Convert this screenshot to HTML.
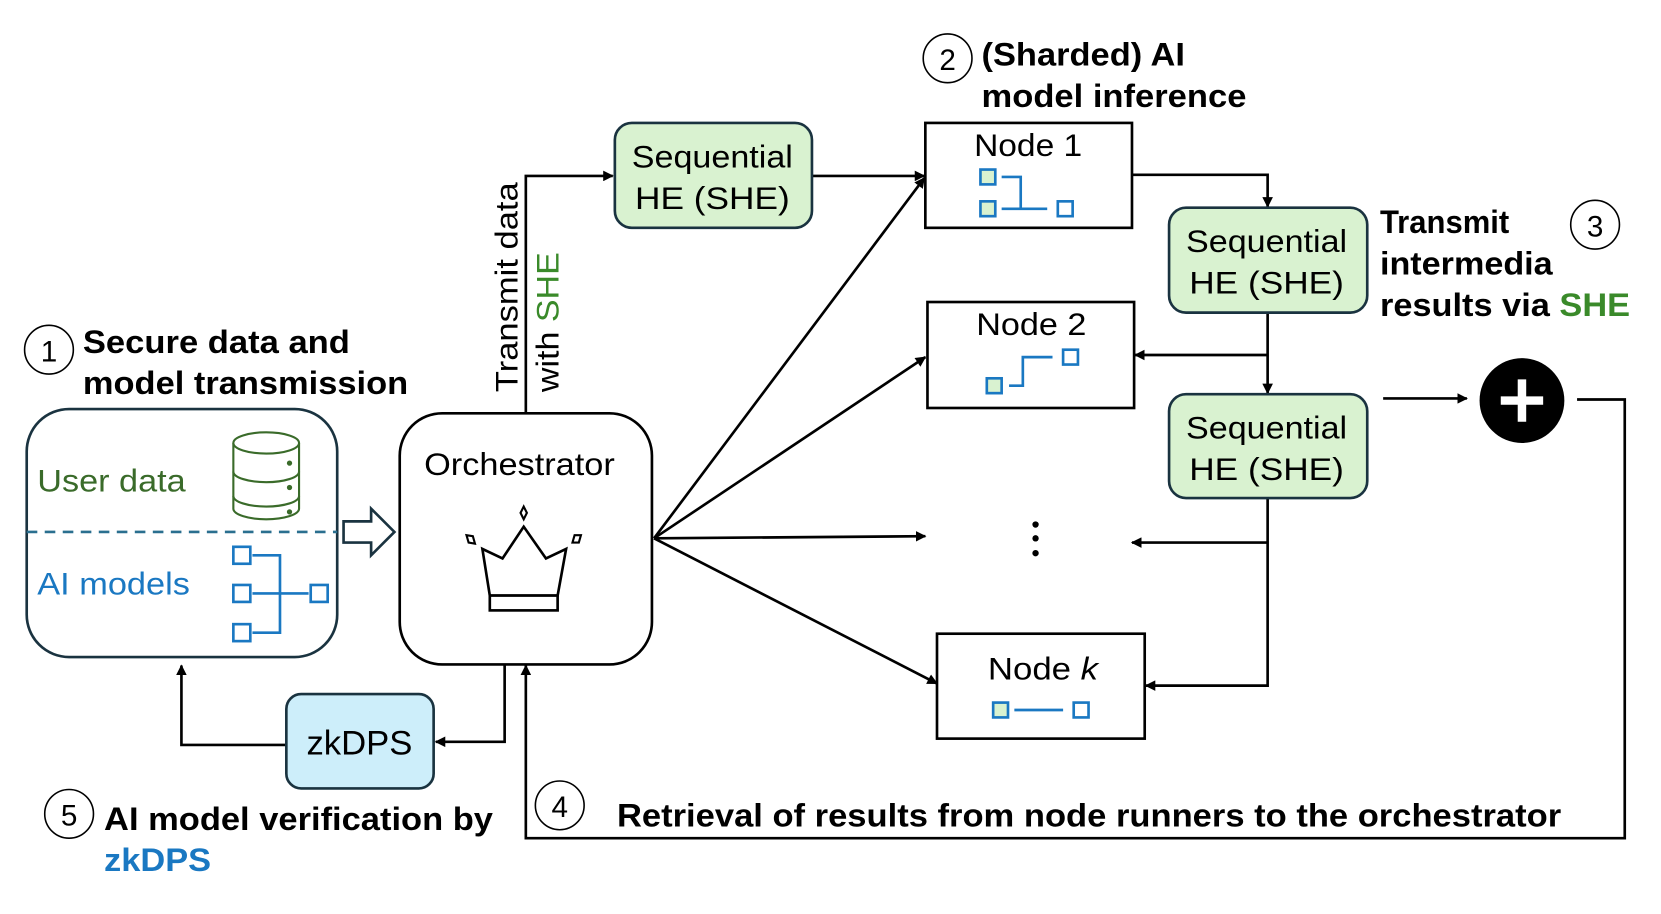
<!DOCTYPE html>
<html><head><meta charset="utf-8"><style>
html,body{margin:0;padding:0;background:#fff}
svg{display:block}
text{font-family:"Liberation Sans",sans-serif}
.b{font-weight:bold;font-size:31px}
.r{font-size:30px}
</style></head><body>
<svg width="1661" height="914" viewBox="0 0 1567 862.5" xmlns="http://www.w3.org/2000/svg">
<defs>
<marker id="a" markerWidth="10" markerHeight="10" refX="9" refY="5" orient="auto" markerUnits="userSpaceOnUse"><path d="M0,0 L10,5 L0,10 Z" fill="#000"/></marker>
</defs>
<g fill="none" stroke="#000" stroke-width="2.5">
<circle cx="46" cy="330" r="23" stroke-width="1.5"/>
<circle cx="894" cy="55" r="23" stroke-width="1.5"/>
<circle cx="1505" cy="212" r="23" stroke-width="1.5"/>
<circle cx="528" cy="760" r="23" stroke-width="1.5"/>
<circle cx="65" cy="768" r="23" stroke-width="1.5"/>
</g>
<g font-size="30" fill="#000">
<text x="46" y="341" text-anchor="middle" font-size="28">1</text>
<text x="894" y="66" text-anchor="middle" font-size="28">2</text>
<text x="1505" y="223" text-anchor="middle" font-size="28">3</text>
<text x="528" y="771" text-anchor="middle" font-size="28">4</text>
<text x="65" y="779" text-anchor="middle" font-size="28">5</text>
</g>
<rect x="25" y="386" width="293" height="234" rx="40" fill="#fff" stroke="#1a3340" stroke-width="2.5"/>
<line x1="25" y1="502" x2="318" y2="502" stroke="#2a6f8f" stroke-width="2.5" stroke-dasharray="10,7"/>
<text x="35" y="464" class="r" fill="#3a6b2a" textLength="140" lengthAdjust="spacingAndGlyphs">User data</text>
<text x="35" y="561" class="r" fill="#1a78c2" textLength="144" lengthAdjust="spacingAndGlyphs">AI models</text>
<g fill="#fff" stroke="#3a6b2a" stroke-width="2">
<path d="M220,418 v62 a31,10 0 0 0 62,0 v-62"/>
<ellipse cx="251" cy="418" rx="31" ry="10"/>
<path d="M220,445 a31,10 0 0 0 62,0 M220,468 a31,10 0 0 0 62,0" fill="none"/>
</g>
<g fill="#3a6b2a"><circle cx="273" cy="437" r="2.5"/><circle cx="273" cy="460" r="2.5"/><circle cx="273" cy="483" r="2.5"/></g>
<g fill="#fff" stroke="#1a78c2" stroke-width="2.5">
<rect x="220" y="516" width="16" height="16"/><rect x="220" y="552" width="16" height="16"/><rect x="220" y="589" width="16" height="16"/><rect x="293" y="552" width="16" height="16"/>
<path d="M238,524 h26 v73 h-26 M238,560 h53" fill="none"/>
</g>
<path d="M324,492 h26 v-12 l22,22 l-22,22 v-12 h-26 z" fill="#fff" stroke="#1a3340" stroke-width="2.5"/>
<rect x="377" y="390" width="238" height="237" rx="40" fill="#fff" stroke="#000" stroke-width="2.5"/>
<text x="490" y="448" text-anchor="middle" class="r" textLength="180" lengthAdjust="spacingAndGlyphs">Orchestrator</text>
<g fill="#fff" stroke="#000" stroke-width="2.5">
<path d="M455,518 L462,562 L526,562 L534,518 L515,527 L494,497 L474,527 Z"/>
<rect x="462" y="562" width="64" height="14"/>
<path d="M494,478 l3,6 l-3,6 l-3,-6 z" stroke-width="2"/>
<path d="M440,505 l6,1 l2,7 l-6,-1 z" stroke-width="2"/>
<path d="M542,505 l6,0 l-2,7 l-6,0 z" stroke-width="2"/>
</g>
<g stroke="#000" stroke-width="2.5" fill="none">
<path d="M496,390 V166 H578" marker-end="url(#a)"/>
<path d="M766,166 H872" marker-end="url(#a)"/>
<path d="M1068,165 H1196 V195" marker-end="url(#a)"/>
<path d="M1196,295 V371" marker-end="url(#a)"/>
<path d="M1196,335 H1071" marker-end="url(#a)"/>
<path d="M1196,470 V647 H1081" marker-end="url(#a)"/>
<path d="M1196,512 H1068" marker-end="url(#a)"/>
<path d="M1305,376 H1384" marker-end="url(#a)"/>
<path d="M1488,377 H1533 V791 H496 V628" marker-end="url(#a)"/>
<path d="M617,508 L872,168" marker-end="url(#a)"/>
<path d="M617,508 L873,337" marker-end="url(#a)"/>
<path d="M617,508 L873,506" marker-end="url(#a)"/>
<path d="M617,508 L884,645" marker-end="url(#a)"/>
<path d="M476,627 V700 H411" marker-end="url(#a)"/>
<path d="M270,703 H171 V628" marker-end="url(#a)"/>
</g>
<text transform="translate(488,370) rotate(-90)" class="r" textLength="198" lengthAdjust="spacingAndGlyphs">Transmit data</text>
<text transform="translate(527,370) rotate(-90)" class="r" textLength="132" lengthAdjust="spacingAndGlyphs">with <tspan fill="#3a8a2a">SHE</tspan></text>
<g fill="#d9f2d0" stroke="#1a3340" stroke-width="2.5">
<rect x="580" y="116" width="186" height="99" rx="16"/>
<rect x="1103" y="196" width="187" height="99" rx="16"/>
<rect x="1103" y="372" width="187" height="98" rx="16"/>
</g>
<g text-anchor="middle">
<text x="672" y="158" class="r" textLength="152" lengthAdjust="spacingAndGlyphs">Sequential</text><text x="672" y="197" class="r" textLength="146" lengthAdjust="spacingAndGlyphs">HE (SHE)</text>
<text x="1195" y="238" class="r" textLength="152" lengthAdjust="spacingAndGlyphs">Sequential</text><text x="1195" y="277" class="r" textLength="146" lengthAdjust="spacingAndGlyphs">HE (SHE)</text>
<text x="1195" y="414" class="r" textLength="152" lengthAdjust="spacingAndGlyphs">Sequential</text><text x="1195" y="453" class="r" textLength="146" lengthAdjust="spacingAndGlyphs">HE (SHE)</text>
</g>
<g fill="#fff" stroke="#000" stroke-width="2.5">
<rect x="873" y="116" width="195" height="99"/>
<rect x="875" y="285" width="195" height="100"/>
<rect x="884" y="598" width="196" height="99"/>
</g>
<text x="970" y="147" text-anchor="middle" class="r" textLength="102" lengthAdjust="spacingAndGlyphs">Node 1</text>
<text x="973" y="316" text-anchor="middle" class="r" textLength="104" lengthAdjust="spacingAndGlyphs">Node 2</text>
<text x="984" y="641" text-anchor="middle" class="r" textLength="104" lengthAdjust="spacingAndGlyphs">Node <tspan font-style="italic">k</tspan></text>
<g stroke="#1a78c2" stroke-width="2.5">
<rect x="925" y="160" width="14" height="14" fill="#d9f2d0"/><rect x="925" y="190" width="14" height="14" fill="#d9f2d0"/><rect x="998" y="190" width="14" height="14" fill="#fff"/>
<path d="M945,167 h18 v30 M945,197 h43" fill="none"/>
<rect x="931" y="357" width="14" height="14" fill="#d9f2d0"/><rect x="1003" y="330" width="14" height="14" fill="#fff"/>
<path d="M952,364 h13 v-27 h28" fill="none"/>
<rect x="937" y="663" width="14" height="14" fill="#d9f2d0"/><rect x="1013" y="663" width="14" height="14" fill="#fff"/>
<path d="M957,670 h46" fill="none"/>
</g>
<g fill="#000"><circle cx="977" cy="495" r="3"/><circle cx="977" cy="508" r="3"/><circle cx="977" cy="522" r="3"/></g>
<circle cx="1436" cy="378" r="40" fill="#000"/>
<path d="M1436,358 v40 M1416,378 h40" stroke="#fff" stroke-width="8"/>
<rect x="270" y="655" width="139" height="89" rx="14" fill="#cdeefa" stroke="#1a3340" stroke-width="2.5"/>
<text x="339" y="712" text-anchor="middle" font-size="32" textLength="100" lengthAdjust="spacingAndGlyphs">zkDPS</text>
<text x="78" y="333" class="b" textLength="252" lengthAdjust="spacingAndGlyphs">Secure data and</text>
<text x="78" y="372" class="b" textLength="307" lengthAdjust="spacingAndGlyphs">model transmission</text>
<text x="926" y="62" class="b" textLength="192" lengthAdjust="spacingAndGlyphs">(Sharded) AI</text>
<text x="926" y="101" class="b" textLength="250" lengthAdjust="spacingAndGlyphs">model inference</text>
<text x="1302" y="220" class="b" textLength="122" lengthAdjust="spacingAndGlyphs">Transmit</text>
<text x="1302" y="259" class="b" textLength="163" lengthAdjust="spacingAndGlyphs">intermedia</text>
<text x="1302" y="298" class="b" textLength="236" lengthAdjust="spacingAndGlyphs">results via <tspan fill="#3a8a2a">SHE</tspan></text>
<text x="98" y="783" class="b" textLength="367" lengthAdjust="spacingAndGlyphs">AI model verification by</text>
<text x="98" y="822" class="b" fill="#1a78c2" textLength="101" lengthAdjust="spacingAndGlyphs">zkDPS</text>
<text x="582" y="780" class="b" textLength="891" lengthAdjust="spacingAndGlyphs">Retrieval of results from node runners to the orchestrator</text>
</svg>
</body></html>
